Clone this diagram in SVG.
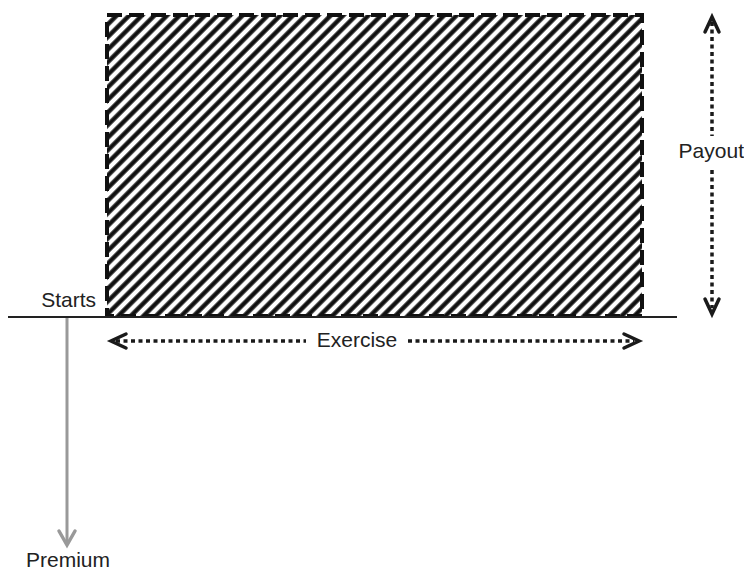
<svg xmlns="http://www.w3.org/2000/svg" width="744" height="571" viewBox="0 0 744 571">
<style>
text{font-family:"Liberation Sans",Arial,sans-serif;font-size:21px;fill:#222}
.dot{stroke:#1a1a1a;stroke-width:3.5;stroke-dasharray:4 3.5;fill:none}
.head{stroke:#1a1a1a;stroke-width:3.5;fill:none;stroke-linecap:round;stroke-linejoin:miter}
</style>
<defs>
<pattern id="hatch" patternUnits="userSpaceOnUse" width="8.9" height="8.9" patternTransform="rotate(45)">
<line x1="4.45" y1="0" x2="4.45" y2="8.9" stroke="#111" stroke-width="4.4"/>
</pattern>
</defs>
<g id="area">
<rect x="107" y="15" width="535" height="301" fill="url(#hatch)" stroke="#111" stroke-width="4" stroke-dasharray="15 7"/>
</g>
<g id="connectors">
<line x1="8" y1="317" x2="677" y2="317" stroke="#222" stroke-width="2"/>
<line x1="67" y1="318" x2="67" y2="544" stroke="#999" stroke-width="3"/>
<polyline points="59,531 67,545 75,531" stroke="#999" stroke-width="3.5" fill="none" stroke-linecap="round"/>
<line class="dot" x1="116" y1="341" x2="306" y2="341"/>
<line class="dot" x1="408" y1="341" x2="634" y2="341"/>
<polyline class="head" points="126,334 111,341 126,348"/>
<polyline class="head" points="624,334 639,341 624,348"/>
<line class="dot" x1="712" y1="22" x2="712" y2="136"/>
<line class="dot" x1="712" y1="170" x2="712" y2="308"/>
<polyline class="head" points="705,32 712,17 719,32"/>
<polyline class="head" points="705,299 712,314 719,299"/>
</g>
<g id="labels">
<text x="96" y="307" text-anchor="end">Starts</text>
<text x="357" y="347" text-anchor="middle">Exercise</text>
<text x="744" y="158" text-anchor="end">Payout</text>
<text x="68" y="567" text-anchor="middle">Premium</text>
</g>
</svg>
